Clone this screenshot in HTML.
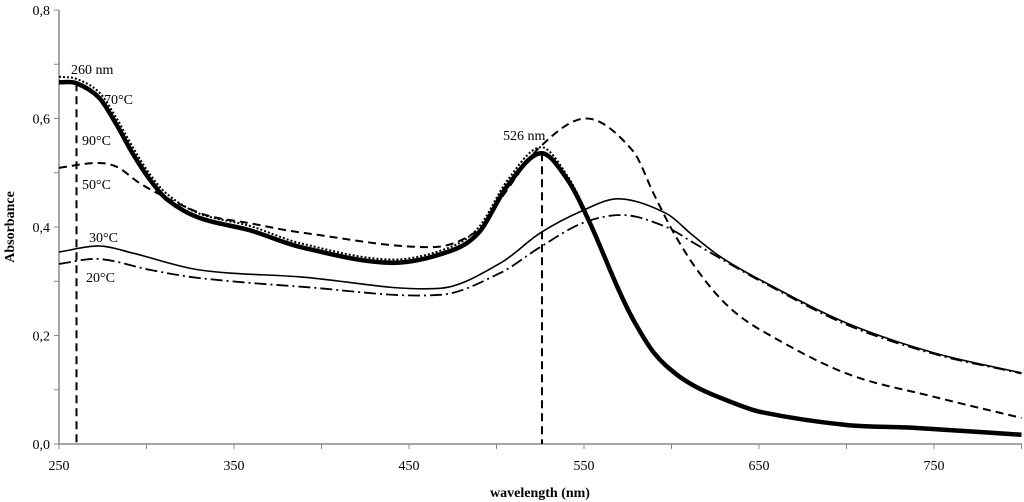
<!DOCTYPE html>
<html><head><meta charset="utf-8"><style>
body{margin:0;background:#fff}
svg{display:block;font-family:"Liberation Serif",serif}
</style></head><body>
<svg id="c" width="1024" height="502"></svg>
<script>
const ticksX=[250,350,450,550,650,750];
const ticksY=[0,0.2,0.4,0.6,0.8];
const wl90=[250,260,273,283,292,302,312,330,359,388,439,473,490,506,525,540,553,569,578,590,603,616,632,651,700,738,800];
const a90=[0.667,0.665,0.638,0.588,0.536,0.487,0.45,0.417,0.394,0.363,0.334,0.355,0.39,0.475,0.536,0.49,0.41,0.29,0.23,0.168,0.128,0.102,0.08,0.059,0.035,0.03,0.017];
const wl70=[250,260,273,283,292,302,312,330,359,388,439,473,490,506,525,540,553,569];
const a70=[0.677,0.673,0.648,0.6,0.548,0.497,0.46,0.425,0.402,0.37,0.34,0.362,0.40,0.485,0.547,0.497,0.415,0.292];
const wl50=[250,271,283,296,312,334,359,388,464,490,502,525,552,578,590,602,616,632,651,700,750,800];
const a50=[0.509,0.518,0.511,0.481,0.453,0.422,0.407,0.39,0.363,0.395,0.45,0.548,0.60,0.54,0.46,0.385,0.315,0.255,0.21,0.13,0.087,0.048];
const wl30=[250,273,292,330,388,468,502,525,549,570,597,612,628,651,700,750,800];
const a30=[0.354,0.365,0.352,0.321,0.308,0.287,0.333,0.389,0.43,0.452,0.425,0.385,0.345,0.302,0.223,0.168,0.131];
const wl20=[250,273,302,330,388,468,502,525,549,573,597,612,628,651,700,750,800];
const a20=[0.332,0.341,0.321,0.306,0.29,0.275,0.315,0.363,0.407,0.422,0.40,0.372,0.342,0.30,0.22,0.166,0.13];
const X=w=>59+(w-250)*1.75, Y=a=>444-a*542.5;
const svg=document.getElementById('c'),NS='http://www.w3.org/2000/svg';
function mk(t,at,p){const e=document.createElementNS(NS,t);for(const k in at)e.setAttribute(k,at[k]);(p||svg).appendChild(e);return e;}
function path(ws,as){
  const p=ws.map((w,i)=>[X(w),Y(as[i])]),n=p.length,m=[];
  for(let i=0;i<n;i++){const a=p[Math.max(0,i-1)],b=p[Math.min(n-1,i+1)];m.push((b[1]-a[1])/(b[0]-a[0]));}
  let d='M'+p[0];
  for(let i=0;i<n-1;i++){const dx=(p[i+1][0]-p[i][0])/3;
    d+='C'+(p[i][0]+dx)+','+(p[i][1]+m[i]*dx)+' '+(p[i+1][0]-dx)+','+(p[i+1][1]-m[i+1]*dx)+' '+p[i+1];}
  return d;}
let e=mk('line',{x1:59,y1:10,x2:59,y2:444,stroke:'#888','stroke-width':1.5});

e=mk('line',{x1:59,y1:444,x2:1022,y2:444,stroke:'#888','stroke-width':1.5});

for(let w=250;w<=800;w+=50){e=mk('line',{x1:X(w),y1:444,x2:X(w),y2:449,stroke:'#888'});}
ticksX.forEach(w=>{e=mk('text',{x:X(w),y:470,'text-anchor':'middle','font-size':14});e.textContent=w;});
for(let a=0;a<=0.8001;a+=0.1){e=mk('line',{x1:54,y1:Y(a),x2:59,y2:Y(a),stroke:'#888'});}
ticksY.forEach(a=>{e=mk('text',{x:50,y:Y(a)+5,'text-anchor':'end','font-size':14});e.textContent=a.toFixed(1).replace('.',',');});
e=mk('text',{x:540,y:497,'text-anchor':'middle','font-size':14,'font-weight':'bold'});e.textContent='wavelength (nm)';
e=mk('text',{x:0,y:0,'text-anchor':'middle','font-size':14,'font-weight':'bold',transform:'translate(14,227) rotate(-90)'});e.textContent='Absorbance';
const S=[[wl50,a50,{stroke:'#000','stroke-width':2,'stroke-dasharray':'8,5',fill:'none'},'series-50c'],
[wl30,a30,{stroke:'#000','stroke-width':1.6,fill:'none'},'series-30c'],
[wl20,a20,{stroke:'#000','stroke-width':1.8,'stroke-dasharray':'12,4,2,4',fill:'none'},'series-20c'],
[wl70,a70,{stroke:'#000','stroke-width':2,'stroke-dasharray':'2,2',fill:'none'},'series-70c'],
[wl90,a90,{stroke:'#000','stroke-width':4.5,fill:'none'},'series-90c']];
S.forEach(s=>{const at=s[2];at.d=path(s[0],s[1]);e=mk('path',at);});
[[260,0.665],[526,0.536]].forEach(m=>{e=mk('line',{x1:X(m[0]),y1:Y(m[1]),x2:X(m[0]),y2:444,stroke:'#000','stroke-width':2,'stroke-dasharray':'8,5'});});
const labels=[[71,74,'260 nm'],[503,140,'526 nm'],[104,104,'70°C'],[82,145,'90°C'],[82,189,'50°C'],[89,242,'30°C'],[86,282,'20°C']];
labels.forEach(l=>{e=mk('text',{x:l[0],y:l[1],'font-size':14});e.textContent=l[2];});
</script>
</body></html>
